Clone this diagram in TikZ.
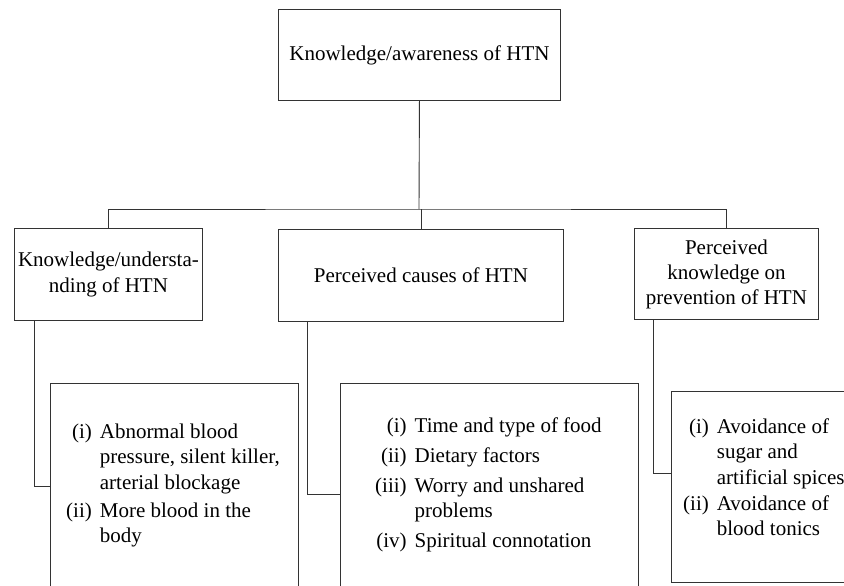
\documentclass[tikz,border=0pt]{standalone}
\usepackage{fontspec}
\setmainfont{Liberation Serif}
\begin{document}
\begin{tikzpicture}[x=1pt,y=-1pt,
  box/.style={draw=black!80, line width=0.9pt, inner sep=0pt, align=center,
    font=\fontsize{21}{26}\selectfont, anchor=north west},
  subbox/.style={draw=black!80, line width=0.9pt, inner sep=0pt, anchor=north west},
  conn/.style={draw=black!80, line width=0.9pt},
  listtext/.style={inner sep=0pt, anchor=base west, font=\fontsize{21}{25.5}\selectfont}]
\useasboundingbox (0,0) rectangle (844,586);
\clip (0,0) rectangle (844,586);
\fill[white] (0,0) rectangle (844,586);

\node[box, minimum width=282pt, minimum height=91pt] (top) at (278,9) {Knowledge/awareness of HTN};
\node[box, minimum width=188pt, minimum height=92pt] (left) at (14,228) {Knowledge/understa-\\nding of HTN};
\node[box, minimum width=285pt, minimum height=92pt] (mid) at (278,229) {Perceived causes of HTN};
\node[box, minimum width=184pt, minimum height=91pt, font=\fontsize{21}{25}\selectfont] (right) at (634,228) {Perceived\\knowledge on\\prevention of HTN};

\node[subbox, minimum width=248pt, minimum height=206pt] (lb) at (50,383) {};
\node[subbox, minimum width=298pt, minimum height=222pt] (mb) at (340,383) {};
\node[subbox, minimum width=240pt, minimum height=191pt] (rb) at (671,391) {};

\coordinate (bus) at (419,209);
\draw[conn] (top.south) -- (bus);
\draw[conn] (left.north) |- (bus) -| (right.north);
\draw[conn] (mid.north) -- (mid.north |- bus);
\draw[conn] ([xshift=20pt]left.south west) |- (lb.west);
\draw[conn] ([xshift=29pt]mid.south west) |- (mb.west);
\draw[conn] ([xshift=19pt]right.south west) |- ([yshift=13.5pt]rb.west);

\node[listtext] (lbt) at (66,438) {\begin{tabular}[t]{@{}r@{\hspace{8pt}}l@{}}
(i)&Abnormal blood\\
&pressure, silent killer,\\
&arterial blockage\\[2.5pt]
(ii)&More blood in the\\
&body
\end{tabular}};

\node[listtext] (mbt) at (375,432) {\begin{tabular}[t]{@{}r@{\hspace{8pt}}l@{}}
(i)&Time and type of food\\[4.5pt]
(ii)&Dietary factors\\[4.5pt]
(iii)&Worry and unshared\\
&problems\\[4.5pt]
(iv)&Spiritual connotation
\end{tabular}};

\node[listtext] (rbt) at (683,433) {\begin{tabular}[t]{@{}r@{\hspace{8pt}}l@{}}
(i)&Avoidance of\\
&sugar and\\
&artificial spices\\[0.5pt]
(ii)&Avoidance of\\
&blood tonics
\end{tabular}};
\end{tikzpicture}
\end{document}
